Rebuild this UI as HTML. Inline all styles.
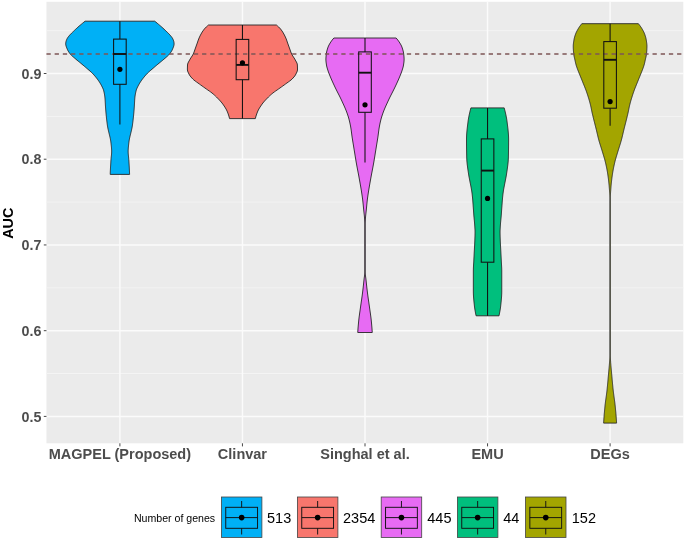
<!DOCTYPE html>
<html lang="en"><head><meta charset="utf-8"><title>AUC violin plot</title>
<style>html,body{margin:0;padding:0;background:#fff}svg{display:block;will-change:transform}text{font-family:"Liberation Sans",Arial,Helvetica,sans-serif}</style></head><body>
<svg width="685" height="541" viewBox="0 0 685 541">
<rect width="685" height="541" fill="#fff"/>
<rect x="46.45" y="1.8" width="636.85" height="441.5" fill="#EBEBEB"/>
<g stroke="#F4F4F4" stroke-width="0.9">
<line x1="46.45" x2="683.3" y1="30.64" y2="30.64"/>
<line x1="46.45" x2="683.3" y1="116.36" y2="116.36"/>
<line x1="46.45" x2="683.3" y1="202.09" y2="202.09"/>
<line x1="46.45" x2="683.3" y1="287.81" y2="287.81"/>
<line x1="46.45" x2="683.3" y1="373.54" y2="373.54"/>
</g>
<g stroke="#FBFBFB" stroke-width="1.45">
<line x1="46.45" x2="683.3" y1="73.5" y2="73.5"/>
<line x1="46.45" x2="683.3" y1="159.22" y2="159.22"/>
<line x1="46.45" x2="683.3" y1="244.95" y2="244.95"/>
<line x1="46.45" x2="683.3" y1="330.68" y2="330.68"/>
<line x1="46.45" x2="683.3" y1="416.4" y2="416.4"/>
<line x1="119.9" x2="119.9" y1="1.8" y2="443.3"/>
<line x1="242.45" x2="242.45" y1="1.8" y2="443.3"/>
<line x1="365" x2="365" y1="1.8" y2="443.3"/>
<line x1="487.55" x2="487.55" y1="1.8" y2="443.3"/>
<line x1="610.1" x2="610.1" y1="1.8" y2="443.3"/>
</g>
<path d="M85.1 21.2 L83.84 22.2 L82.61 23.2 L81.4 24.2 L80.21 25.2 L79.06 26.2 L77.92 27.2 L76.82 28.2 L75.73 29.2 L74.67 30.2 L73.63 31.2 L72.58 32.2 L71.55 33.2 L70.57 34.2 L69.67 35.2 L68.84 36.2 L68.04 37.2 L67.37 38.2 L66.86 39.2 L66.43 40.2 L66.08 41.2 L65.87 42.2 L65.73 43.2 L65.71 44.2 L65.85 45.2 L66.11 46.2 L66.46 47.2 L66.86 48.2 L67.28 49.2 L67.72 50.2 L68.27 51.2 L68.91 52.2 L69.63 53.2 L70.41 54.2 L71.33 55.2 L72.39 56.2 L73.54 57.2 L74.72 58.2 L75.88 59.2 L77.06 60.2 L78.28 61.2 L79.52 62.2 L80.75 63.2 L81.95 64.2 L83.14 65.2 L84.32 66.2 L85.49 67.2 L86.65 68.2 L87.81 69.2 L88.99 70.2 L90.15 71.2 L91.26 72.2 L92.3 73.2 L93.26 74.2 L94.17 75.2 L95.03 76.2 L95.86 77.2 L96.66 78.2 L97.43 79.2 L98.17 80.2 L98.87 81.2 L99.54 82.2 L100.15 83.2 L100.74 84.2 L101.29 85.2 L101.81 86.2 L102.31 87.2 L102.78 88.2 L103.23 89.2 L103.55 90.2 L103.81 91.2 L104.05 92.2 L104.26 93.2 L104.45 94.2 L104.61 95.2 L104.76 96.2 L104.88 97.2 L104.98 98.2 L105.06 99.2 L105.13 100.2 L105.19 101.2 L105.24 102.2 L105.3 103.2 L105.35 104.2 L105.4 105.2 L105.46 106.2 L105.52 107.2 L105.6 108.2 L105.67 109.2 L105.75 110.2 L105.84 111.2 L105.92 112.2 L106.01 113.2 L106.11 114.2 L106.2 115.2 L106.3 116.2 L106.4 117.2 L106.51 118.2 L106.62 119.2 L106.73 120.2 L106.85 121.2 L106.97 122.2 L107.1 123.2 L107.23 124.2 L107.36 125.2 L107.52 126.2 L107.69 127.2 L107.88 128.2 L108.1 129.2 L108.32 130.2 L108.55 131.2 L108.79 132.2 L109.04 133.2 L109.28 134.2 L109.53 135.2 L109.76 136.2 L109.99 137.2 L110.21 138.2 L110.41 139.2 L110.59 140.2 L110.75 141.2 L110.89 142.2 L111.01 143.2 L111.12 144.2 L111.23 145.2 L111.33 146.2 L111.43 147.2 L111.51 148.2 L111.58 149.2 L111.63 150.2 L111.65 151.2 L111.64 152.2 L111.6 153.2 L111.53 154.2 L111.44 155.2 L111.34 156.2 L111.23 157.2 L111.13 158.2 L111.03 159.2 L110.96 160.2 L110.89 161.2 L110.83 162.2 L110.77 163.2 L110.71 164.2 L110.65 165.2 L110.59 166.2 L110.53 167.2 L110.48 168.2 L110.43 169.2 L110.38 170.2 L110.33 171.2 L110.29 172.2 L110.25 173.2 L110.21 174.2 L110.2 174.4 L129.6 174.4 L129.59 174.2 L129.55 173.2 L129.51 172.2 L129.47 171.2 L129.42 170.2 L129.37 169.2 L129.32 168.2 L129.27 167.2 L129.21 166.2 L129.15 165.2 L129.09 164.2 L129.03 163.2 L128.97 162.2 L128.91 161.2 L128.84 160.2 L128.77 159.2 L128.67 158.2 L128.57 157.2 L128.46 156.2 L128.36 155.2 L128.27 154.2 L128.2 153.2 L128.16 152.2 L128.15 151.2 L128.17 150.2 L128.22 149.2 L128.29 148.2 L128.37 147.2 L128.47 146.2 L128.57 145.2 L128.68 144.2 L128.79 143.2 L128.91 142.2 L129.05 141.2 L129.21 140.2 L129.39 139.2 L129.59 138.2 L129.81 137.2 L130.04 136.2 L130.27 135.2 L130.52 134.2 L130.76 133.2 L131.01 132.2 L131.25 131.2 L131.48 130.2 L131.7 129.2 L131.92 128.2 L132.11 127.2 L132.28 126.2 L132.44 125.2 L132.57 124.2 L132.7 123.2 L132.83 122.2 L132.95 121.2 L133.07 120.2 L133.18 119.2 L133.29 118.2 L133.4 117.2 L133.5 116.2 L133.6 115.2 L133.69 114.2 L133.79 113.2 L133.88 112.2 L133.96 111.2 L134.05 110.2 L134.13 109.2 L134.2 108.2 L134.28 107.2 L134.34 106.2 L134.4 105.2 L134.45 104.2 L134.5 103.2 L134.56 102.2 L134.61 101.2 L134.67 100.2 L134.74 99.2 L134.82 98.2 L134.92 97.2 L135.04 96.2 L135.19 95.2 L135.35 94.2 L135.54 93.2 L135.75 92.2 L135.99 91.2 L136.25 90.2 L136.57 89.2 L137.02 88.2 L137.49 87.2 L137.99 86.2 L138.51 85.2 L139.06 84.2 L139.65 83.2 L140.26 82.2 L140.93 81.2 L141.63 80.2 L142.37 79.2 L143.14 78.2 L143.94 77.2 L144.77 76.2 L145.63 75.2 L146.54 74.2 L147.5 73.2 L148.54 72.2 L149.65 71.2 L150.81 70.2 L151.99 69.2 L153.15 68.2 L154.31 67.2 L155.48 66.2 L156.66 65.2 L157.85 64.2 L159.05 63.2 L160.28 62.2 L161.52 61.2 L162.74 60.2 L163.92 59.2 L165.08 58.2 L166.26 57.2 L167.41 56.2 L168.47 55.2 L169.39 54.2 L170.17 53.2 L170.89 52.2 L171.53 51.2 L172.08 50.2 L172.52 49.2 L172.94 48.2 L173.34 47.2 L173.69 46.2 L173.95 45.2 L174.09 44.2 L174.07 43.2 L173.93 42.2 L173.72 41.2 L173.37 40.2 L172.94 39.2 L172.43 38.2 L171.76 37.2 L170.96 36.2 L170.13 35.2 L169.23 34.2 L168.25 33.2 L167.22 32.2 L166.17 31.2 L165.13 30.2 L164.07 29.2 L162.98 28.2 L161.88 27.2 L160.74 26.2 L159.59 25.2 L158.4 24.2 L157.19 23.2 L155.96 22.2 L154.7 21.2 Z" fill="#00B0F6" stroke="#262626" stroke-width="0.9" stroke-linejoin="round"/>
<path d="M208.5 25 L207.34 26 L206.25 27 L205.25 28 L204.36 29 L203.58 30 L202.87 31 L202.22 32 L201.62 33 L201.05 34 L200.51 35 L200.01 36 L199.54 37 L199.09 38 L198.68 39 L198.3 40 L197.95 41 L197.62 42 L197.28 43 L196.92 44 L196.56 45 L196.2 46 L195.84 47 L195.47 48 L195.12 49 L194.77 50 L194.43 51 L194.08 52 L193.69 53 L193.25 54 L192.72 55 L192.11 56 L191.45 57 L190.79 58 L190.18 59 L189.64 60 L189.06 61 L188.49 62 L188 63 L187.66 64 L187.53 65 L187.48 66 L187.44 67 L187.42 68 L187.4 69 L187.43 70 L187.64 71 L188 72 L188.46 73 L188.95 74 L189.49 75 L190.16 76 L190.96 77 L191.85 78 L192.8 79 L193.9 80 L195.18 81 L196.57 82 L197.98 83 L199.36 84 L200.73 85 L202.13 86 L203.54 87 L204.95 88 L206.36 89 L207.81 90 L209.27 91 L210.68 92 L212 93 L213.2 94 L214.34 95 L215.41 96 L216.45 97 L217.45 98 L218.43 99 L219.39 100 L220.31 101 L221.18 102 L221.99 103 L222.75 104 L223.46 105 L224.15 106 L224.8 107 L225.42 108 L226.02 109 L226.55 110 L227.03 111 L227.46 112 L227.85 113 L228.21 114 L228.55 115 L228.86 116 L229.15 117 L229.41 118 L229.55 118.6 L255.35 118.6 L255.49 118 L255.75 117 L256.04 116 L256.35 115 L256.69 114 L257.05 113 L257.44 112 L257.87 111 L258.35 110 L258.88 109 L259.48 108 L260.1 107 L260.75 106 L261.44 105 L262.15 104 L262.91 103 L263.72 102 L264.59 101 L265.51 100 L266.47 99 L267.45 98 L268.45 97 L269.49 96 L270.56 95 L271.7 94 L272.9 93 L274.22 92 L275.63 91 L277.09 90 L278.54 89 L279.95 88 L281.36 87 L282.77 86 L284.17 85 L285.54 84 L286.92 83 L288.33 82 L289.72 81 L291 80 L292.1 79 L293.05 78 L293.94 77 L294.74 76 L295.41 75 L295.95 74 L296.44 73 L296.9 72 L297.26 71 L297.47 70 L297.5 69 L297.48 68 L297.46 67 L297.42 66 L297.37 65 L297.24 64 L296.9 63 L296.41 62 L295.84 61 L295.26 60 L294.72 59 L294.11 58 L293.45 57 L292.79 56 L292.18 55 L291.65 54 L291.21 53 L290.82 52 L290.47 51 L290.13 50 L289.78 49 L289.43 48 L289.06 47 L288.7 46 L288.34 45 L287.98 44 L287.62 43 L287.28 42 L286.95 41 L286.6 40 L286.22 39 L285.81 38 L285.36 37 L284.89 36 L284.39 35 L283.85 34 L283.28 33 L282.68 32 L282.03 31 L281.32 30 L280.54 29 L279.65 28 L278.65 27 L277.56 26 L276.4 25 Z" fill="#F8766D" stroke="#262626" stroke-width="0.9" stroke-linejoin="round"/>
<path d="M333.9 38 L333.04 39 L332.23 40 L331.48 41 L330.79 42 L330.16 43 L329.56 44 L329 45 L328.5 46 L328.09 47 L327.74 48 L327.41 49 L327.12 50 L326.85 51 L326.63 52 L326.45 53 L326.31 54 L326.2 55 L326.09 56 L326 57 L325.94 58 L325.9 59 L325.91 60 L325.97 61 L326.06 62 L326.19 63 L326.33 64 L326.48 65 L326.66 66 L326.9 67 L327.17 68 L327.48 69 L327.79 70 L328.11 71 L328.45 72 L328.82 73 L329.21 74 L329.61 75 L330.02 76 L330.43 77 L330.85 78 L331.28 79 L331.71 80 L332.16 81 L332.61 82 L333.07 83 L333.53 84 L334 85 L334.46 86 L334.94 87 L335.42 88 L335.91 89 L336.41 90 L336.92 91 L337.42 92 L337.94 93 L338.45 94 L338.96 95 L339.47 96 L339.97 97 L340.46 98 L340.95 99 L341.42 100 L341.88 101 L342.35 102 L342.81 103 L343.27 104 L343.73 105 L344.18 106 L344.62 107 L345.06 108 L345.48 109 L345.89 110 L346.29 111 L346.67 112 L347.04 113 L347.38 114 L347.72 115 L348.05 116 L348.36 117 L348.66 118 L348.94 119 L349.2 120 L349.45 121 L349.68 122 L349.91 123 L350.12 124 L350.32 125 L350.52 126 L350.7 127 L350.87 128 L351.02 129 L351.17 130 L351.3 131 L351.43 132 L351.56 133 L351.69 134 L351.82 135 L351.96 136 L352.1 137 L352.25 138 L352.41 139 L352.57 140 L352.73 141 L352.89 142 L353.06 143 L353.22 144 L353.38 145 L353.55 146 L353.71 147 L353.87 148 L354.04 149 L354.2 150 L354.36 151 L354.52 152 L354.69 153 L354.85 154 L355.01 155 L355.17 156 L355.33 157 L355.49 158 L355.66 159 L355.82 160 L355.99 161 L356.16 162 L356.34 163 L356.52 164 L356.7 165 L356.88 166 L357.07 167 L357.26 168 L357.45 169 L357.65 170 L357.84 171 L358.03 172 L358.22 173 L358.41 174 L358.6 175 L358.79 176 L358.97 177 L359.15 178 L359.33 179 L359.51 180 L359.69 181 L359.87 182 L360.05 183 L360.23 184 L360.4 185 L360.58 186 L360.75 187 L360.92 188 L361.08 189 L361.25 190 L361.41 191 L361.56 192 L361.72 193 L361.87 194 L362.02 195 L362.17 196 L362.31 197 L362.45 198 L362.58 199 L362.7 200 L362.82 201 L362.92 202 L363.03 203 L363.13 204 L363.22 205 L363.32 206 L363.41 207 L363.51 208 L363.61 209 L363.71 210 L363.82 211 L363.93 212 L364.04 213 L364.15 214 L364.26 215 L364.36 216 L364.45 217 L364.53 218 L364.6 219 L364.67 220 L364.73 221 L364.79 222 L364.83 223 L364.85 224 L364.85 225 L364.85 226 L364.85 227 L364.85 228 L364.85 229 L364.85 230 L364.85 231 L364.85 232 L364.85 233 L364.85 234 L364.85 235 L364.85 236 L364.85 237 L364.85 238 L364.85 239 L364.85 240 L364.85 241 L364.85 242 L364.85 243 L364.85 244 L364.85 245 L364.85 246 L364.85 247 L364.85 248 L364.85 249 L364.85 250 L364.85 251 L364.85 252 L364.85 253 L364.85 254 L364.85 255 L364.85 256 L364.85 257 L364.85 258 L364.85 259 L364.85 260 L364.85 261 L364.85 262 L364.85 263 L364.85 264 L364.85 265 L364.85 266 L364.85 267 L364.85 268 L364.85 269 L364.85 270 L364.85 271 L364.85 272 L364.82 273 L364.74 274 L364.63 275 L364.49 276 L364.35 277 L364.21 278 L364.09 279 L363.98 280 L363.87 281 L363.76 282 L363.65 283 L363.55 284 L363.44 285 L363.33 286 L363.22 287 L363.11 288 L362.99 289 L362.88 290 L362.76 291 L362.64 292 L362.51 293 L362.38 294 L362.25 295 L362.11 296 L361.98 297 L361.83 298 L361.69 299 L361.55 300 L361.4 301 L361.25 302 L361.11 303 L360.97 304 L360.82 305 L360.68 306 L360.54 307 L360.4 308 L360.26 309 L360.12 310 L359.97 311 L359.83 312 L359.68 313 L359.54 314 L359.41 315 L359.27 316 L359.14 317 L359.02 318 L358.9 319 L358.79 320 L358.69 321 L358.59 322 L358.49 323 L358.4 324 L358.31 325 L358.22 326 L358.14 327 L358.06 328 L357.98 329 L357.91 330 L357.84 331 L357.78 332 L357.75 332.5 L372.25 332.5 L372.22 332 L372.16 331 L372.09 330 L372.02 329 L371.94 328 L371.86 327 L371.78 326 L371.69 325 L371.6 324 L371.51 323 L371.41 322 L371.31 321 L371.21 320 L371.1 319 L370.98 318 L370.86 317 L370.73 316 L370.59 315 L370.46 314 L370.32 313 L370.17 312 L370.03 311 L369.88 310 L369.74 309 L369.6 308 L369.46 307 L369.32 306 L369.18 305 L369.03 304 L368.89 303 L368.75 302 L368.6 301 L368.45 300 L368.31 299 L368.17 298 L368.02 297 L367.89 296 L367.75 295 L367.62 294 L367.49 293 L367.36 292 L367.24 291 L367.12 290 L367.01 289 L366.89 288 L366.78 287 L366.67 286 L366.56 285 L366.45 284 L366.35 283 L366.24 282 L366.13 281 L366.02 280 L365.91 279 L365.79 278 L365.65 277 L365.51 276 L365.37 275 L365.26 274 L365.18 273 L365.15 272 L365.15 271 L365.15 270 L365.15 269 L365.15 268 L365.15 267 L365.15 266 L365.15 265 L365.15 264 L365.15 263 L365.15 262 L365.15 261 L365.15 260 L365.15 259 L365.15 258 L365.15 257 L365.15 256 L365.15 255 L365.15 254 L365.15 253 L365.15 252 L365.15 251 L365.15 250 L365.15 249 L365.15 248 L365.15 247 L365.15 246 L365.15 245 L365.15 244 L365.15 243 L365.15 242 L365.15 241 L365.15 240 L365.15 239 L365.15 238 L365.15 237 L365.15 236 L365.15 235 L365.15 234 L365.15 233 L365.15 232 L365.15 231 L365.15 230 L365.15 229 L365.15 228 L365.15 227 L365.15 226 L365.15 225 L365.15 224 L365.17 223 L365.21 222 L365.27 221 L365.33 220 L365.4 219 L365.47 218 L365.55 217 L365.64 216 L365.74 215 L365.85 214 L365.96 213 L366.07 212 L366.18 211 L366.29 210 L366.39 209 L366.49 208 L366.59 207 L366.68 206 L366.78 205 L366.87 204 L366.97 203 L367.08 202 L367.18 201 L367.3 200 L367.42 199 L367.55 198 L367.69 197 L367.83 196 L367.98 195 L368.13 194 L368.28 193 L368.44 192 L368.59 191 L368.75 190 L368.92 189 L369.08 188 L369.25 187 L369.42 186 L369.6 185 L369.77 184 L369.95 183 L370.13 182 L370.31 181 L370.49 180 L370.67 179 L370.85 178 L371.03 177 L371.21 176 L371.4 175 L371.59 174 L371.78 173 L371.97 172 L372.16 171 L372.35 170 L372.55 169 L372.74 168 L372.93 167 L373.12 166 L373.3 165 L373.48 164 L373.66 163 L373.84 162 L374.01 161 L374.18 160 L374.34 159 L374.51 158 L374.67 157 L374.83 156 L374.99 155 L375.15 154 L375.31 153 L375.48 152 L375.64 151 L375.8 150 L375.96 149 L376.13 148 L376.29 147 L376.45 146 L376.62 145 L376.78 144 L376.94 143 L377.11 142 L377.27 141 L377.43 140 L377.59 139 L377.75 138 L377.9 137 L378.04 136 L378.18 135 L378.31 134 L378.44 133 L378.57 132 L378.7 131 L378.83 130 L378.98 129 L379.13 128 L379.3 127 L379.48 126 L379.68 125 L379.88 124 L380.09 123 L380.32 122 L380.55 121 L380.8 120 L381.06 119 L381.34 118 L381.64 117 L381.95 116 L382.28 115 L382.62 114 L382.96 113 L383.33 112 L383.71 111 L384.11 110 L384.52 109 L384.94 108 L385.38 107 L385.82 106 L386.27 105 L386.73 104 L387.19 103 L387.65 102 L388.12 101 L388.58 100 L389.05 99 L389.54 98 L390.03 97 L390.53 96 L391.04 95 L391.55 94 L392.06 93 L392.58 92 L393.08 91 L393.59 90 L394.09 89 L394.58 88 L395.06 87 L395.54 86 L396 85 L396.47 84 L396.93 83 L397.39 82 L397.84 81 L398.29 80 L398.72 79 L399.15 78 L399.57 77 L399.98 76 L400.39 75 L400.79 74 L401.18 73 L401.55 72 L401.89 71 L402.21 70 L402.52 69 L402.83 68 L403.1 67 L403.34 66 L403.52 65 L403.67 64 L403.81 63 L403.94 62 L404.03 61 L404.09 60 L404.1 59 L404.06 58 L404 57 L403.91 56 L403.8 55 L403.69 54 L403.55 53 L403.37 52 L403.15 51 L402.88 50 L402.59 49 L402.26 48 L401.91 47 L401.5 46 L401 45 L400.44 44 L399.84 43 L399.21 42 L398.52 41 L397.77 40 L396.96 39 L396.1 38 Z" fill="#E76BF3" stroke="#262626" stroke-width="0.9" stroke-linejoin="round"/>
<path d="M470.9 107.9 L470.64 108.9 L470.39 109.9 L470.14 110.9 L469.89 111.9 L469.66 112.9 L469.43 113.9 L469.21 114.9 L469 115.9 L468.8 116.9 L468.62 117.9 L468.44 118.9 L468.29 119.9 L468.14 120.9 L468.01 121.9 L467.89 122.9 L467.76 123.9 L467.64 124.9 L467.51 125.9 L467.39 126.9 L467.28 127.9 L467.16 128.9 L467.06 129.9 L466.96 130.9 L466.87 131.9 L466.78 132.9 L466.71 133.9 L466.64 134.9 L466.59 135.9 L466.55 136.9 L466.52 137.9 L466.5 138.9 L466.5 139.9 L466.5 140.9 L466.5 141.9 L466.51 142.9 L466.51 143.9 L466.52 144.9 L466.53 145.9 L466.54 146.9 L466.55 147.9 L466.56 148.9 L466.58 149.9 L466.59 150.9 L466.61 151.9 L466.62 152.9 L466.64 153.9 L466.66 154.9 L466.68 155.9 L466.7 156.9 L466.72 157.9 L466.76 158.9 L466.82 159.9 L466.89 160.9 L466.97 161.9 L467.07 162.9 L467.17 163.9 L467.28 164.9 L467.41 165.9 L467.54 166.9 L467.67 167.9 L467.81 168.9 L467.96 169.9 L468.1 170.9 L468.25 171.9 L468.4 172.9 L468.55 173.9 L468.7 174.9 L468.86 175.9 L469.04 176.9 L469.24 177.9 L469.44 178.9 L469.63 179.9 L469.82 180.9 L470.01 181.9 L470.21 182.9 L470.41 183.9 L470.61 184.9 L470.8 185.9 L471 186.9 L471.18 187.9 L471.37 188.9 L471.54 189.9 L471.7 190.9 L471.85 191.9 L471.99 192.9 L472.12 193.9 L472.23 194.9 L472.34 195.9 L472.44 196.9 L472.54 197.9 L472.63 198.9 L472.72 199.9 L472.8 200.9 L472.87 201.9 L472.95 202.9 L473.02 203.9 L473.1 204.9 L473.17 205.9 L473.24 206.9 L473.32 207.9 L473.39 208.9 L473.46 209.9 L473.53 210.9 L473.6 211.9 L473.67 212.9 L473.74 213.9 L473.81 214.9 L473.89 215.9 L473.98 216.9 L474.07 217.9 L474.16 218.9 L474.26 219.9 L474.36 220.9 L474.45 221.9 L474.54 222.9 L474.62 223.9 L474.69 224.9 L474.76 225.9 L474.83 226.9 L474.89 227.9 L474.95 228.9 L475 229.9 L475.04 230.9 L475.05 231.9 L475.05 232.9 L475.03 233.9 L475.01 234.9 L474.99 235.9 L474.96 236.9 L474.92 237.9 L474.89 238.9 L474.85 239.9 L474.82 240.9 L474.78 241.9 L474.73 242.9 L474.68 243.9 L474.63 244.9 L474.57 245.9 L474.52 246.9 L474.46 247.9 L474.41 248.9 L474.36 249.9 L474.3 250.9 L474.25 251.9 L474.2 252.9 L474.15 253.9 L474.1 254.9 L474.05 255.9 L474 256.9 L473.95 257.9 L473.9 258.9 L473.85 259.9 L473.8 260.9 L473.75 261.9 L473.69 262.9 L473.62 263.9 L473.56 264.9 L473.51 265.9 L473.46 266.9 L473.41 267.9 L473.38 268.9 L473.36 269.9 L473.35 270.9 L473.35 271.9 L473.35 272.9 L473.35 273.9 L473.35 274.9 L473.35 275.9 L473.35 276.9 L473.35 277.9 L473.35 278.9 L473.35 279.9 L473.35 280.9 L473.35 281.9 L473.35 282.9 L473.35 283.9 L473.35 284.9 L473.35 285.9 L473.35 286.9 L473.35 287.9 L473.35 288.9 L473.35 289.9 L473.35 290.9 L473.35 291.9 L473.36 292.9 L473.39 293.9 L473.43 294.9 L473.49 295.9 L473.55 296.9 L473.62 297.9 L473.71 298.9 L473.79 299.9 L473.89 300.9 L473.99 301.9 L474.09 302.9 L474.19 303.9 L474.3 304.9 L474.4 305.9 L474.52 306.9 L474.66 307.9 L474.81 308.9 L474.97 309.9 L475.14 310.9 L475.32 311.9 L475.51 312.9 L475.71 313.9 L475.91 314.9 L476.1 315.8 L499 315.8 L499.19 314.9 L499.39 313.9 L499.59 312.9 L499.78 311.9 L499.96 310.9 L500.13 309.9 L500.29 308.9 L500.44 307.9 L500.58 306.9 L500.7 305.9 L500.8 304.9 L500.91 303.9 L501.01 302.9 L501.11 301.9 L501.21 300.9 L501.31 299.9 L501.39 298.9 L501.48 297.9 L501.55 296.9 L501.61 295.9 L501.67 294.9 L501.71 293.9 L501.74 292.9 L501.75 291.9 L501.75 290.9 L501.75 289.9 L501.75 288.9 L501.75 287.9 L501.75 286.9 L501.75 285.9 L501.75 284.9 L501.75 283.9 L501.75 282.9 L501.75 281.9 L501.75 280.9 L501.75 279.9 L501.75 278.9 L501.75 277.9 L501.75 276.9 L501.75 275.9 L501.75 274.9 L501.75 273.9 L501.75 272.9 L501.75 271.9 L501.75 270.9 L501.74 269.9 L501.72 268.9 L501.69 267.9 L501.64 266.9 L501.59 265.9 L501.54 264.9 L501.48 263.9 L501.41 262.9 L501.35 261.9 L501.3 260.9 L501.25 259.9 L501.2 258.9 L501.15 257.9 L501.1 256.9 L501.05 255.9 L501 254.9 L500.95 253.9 L500.9 252.9 L500.85 251.9 L500.8 250.9 L500.74 249.9 L500.69 248.9 L500.64 247.9 L500.58 246.9 L500.53 245.9 L500.47 244.9 L500.42 243.9 L500.37 242.9 L500.32 241.9 L500.28 240.9 L500.25 239.9 L500.21 238.9 L500.18 237.9 L500.14 236.9 L500.11 235.9 L500.09 234.9 L500.07 233.9 L500.05 232.9 L500.05 231.9 L500.06 230.9 L500.1 229.9 L500.15 228.9 L500.21 227.9 L500.27 226.9 L500.34 225.9 L500.41 224.9 L500.48 223.9 L500.56 222.9 L500.65 221.9 L500.74 220.9 L500.84 219.9 L500.94 218.9 L501.03 217.9 L501.12 216.9 L501.21 215.9 L501.29 214.9 L501.36 213.9 L501.43 212.9 L501.5 211.9 L501.57 210.9 L501.64 209.9 L501.71 208.9 L501.78 207.9 L501.86 206.9 L501.93 205.9 L502 204.9 L502.08 203.9 L502.15 202.9 L502.23 201.9 L502.3 200.9 L502.38 199.9 L502.47 198.9 L502.56 197.9 L502.66 196.9 L502.76 195.9 L502.87 194.9 L502.98 193.9 L503.11 192.9 L503.25 191.9 L503.4 190.9 L503.56 189.9 L503.73 188.9 L503.92 187.9 L504.1 186.9 L504.3 185.9 L504.49 184.9 L504.69 183.9 L504.89 182.9 L505.09 181.9 L505.28 180.9 L505.47 179.9 L505.66 178.9 L505.86 177.9 L506.06 176.9 L506.24 175.9 L506.4 174.9 L506.55 173.9 L506.7 172.9 L506.85 171.9 L507 170.9 L507.14 169.9 L507.29 168.9 L507.43 167.9 L507.56 166.9 L507.69 165.9 L507.82 164.9 L507.93 163.9 L508.03 162.9 L508.13 161.9 L508.21 160.9 L508.28 159.9 L508.34 158.9 L508.38 157.9 L508.4 156.9 L508.42 155.9 L508.44 154.9 L508.46 153.9 L508.48 152.9 L508.49 151.9 L508.51 150.9 L508.52 149.9 L508.54 148.9 L508.55 147.9 L508.56 146.9 L508.57 145.9 L508.58 144.9 L508.59 143.9 L508.59 142.9 L508.6 141.9 L508.6 140.9 L508.6 139.9 L508.6 138.9 L508.58 137.9 L508.55 136.9 L508.51 135.9 L508.46 134.9 L508.39 133.9 L508.32 132.9 L508.23 131.9 L508.14 130.9 L508.04 129.9 L507.94 128.9 L507.82 127.9 L507.71 126.9 L507.59 125.9 L507.46 124.9 L507.34 123.9 L507.21 122.9 L507.09 121.9 L506.96 120.9 L506.81 119.9 L506.66 118.9 L506.48 117.9 L506.3 116.9 L506.1 115.9 L505.89 114.9 L505.67 113.9 L505.44 112.9 L505.21 111.9 L504.96 110.9 L504.71 109.9 L504.46 108.9 L504.2 107.9 Z" fill="#00BF7D" stroke="#262626" stroke-width="0.9" stroke-linejoin="round"/>
<path d="M581.8 23.7 L581.01 24.7 L580.25 25.7 L579.53 26.7 L578.87 27.7 L578.26 28.7 L577.68 29.7 L577.12 30.7 L576.6 31.7 L576.13 32.7 L575.71 33.7 L575.35 34.7 L575.01 35.7 L574.7 36.7 L574.43 37.7 L574.19 38.7 L574 39.7 L573.84 40.7 L573.68 41.7 L573.53 42.7 L573.41 43.7 L573.31 44.7 L573.26 45.7 L573.25 46.7 L573.27 47.7 L573.31 48.7 L573.36 49.7 L573.43 50.7 L573.5 51.7 L573.59 52.7 L573.68 53.7 L573.8 54.7 L573.97 55.7 L574.18 56.7 L574.41 57.7 L574.65 58.7 L574.87 59.7 L575.09 60.7 L575.3 61.7 L575.52 62.7 L575.76 63.7 L576.02 64.7 L576.31 65.7 L576.64 66.7 L576.99 67.7 L577.35 68.7 L577.73 69.7 L578.11 70.7 L578.5 71.7 L578.9 72.7 L579.31 73.7 L579.72 74.7 L580.13 75.7 L580.54 76.7 L580.95 77.7 L581.36 78.7 L581.76 79.7 L582.16 80.7 L582.56 81.7 L582.96 82.7 L583.37 83.7 L583.78 84.7 L584.18 85.7 L584.59 86.7 L584.98 87.7 L585.38 88.7 L585.76 89.7 L586.13 90.7 L586.49 91.7 L586.83 92.7 L587.17 93.7 L587.5 94.7 L587.83 95.7 L588.15 96.7 L588.46 97.7 L588.77 98.7 L589.07 99.7 L589.36 100.7 L589.64 101.7 L589.91 102.7 L590.17 103.7 L590.43 104.7 L590.67 105.7 L590.89 106.7 L591.1 107.7 L591.3 108.7 L591.5 109.7 L591.7 110.7 L591.9 111.7 L592.12 112.7 L592.35 113.7 L592.58 114.7 L592.82 115.7 L593.06 116.7 L593.3 117.7 L593.55 118.7 L593.79 119.7 L594.04 120.7 L594.3 121.7 L594.55 122.7 L594.8 123.7 L595.05 124.7 L595.31 125.7 L595.56 126.7 L595.81 127.7 L596.06 128.7 L596.3 129.7 L596.55 130.7 L596.78 131.7 L597.02 132.7 L597.25 133.7 L597.49 134.7 L597.72 135.7 L597.96 136.7 L598.21 137.7 L598.46 138.7 L598.72 139.7 L598.99 140.7 L599.28 141.7 L599.58 142.7 L599.88 143.7 L600.19 144.7 L600.51 145.7 L600.83 146.7 L601.15 147.7 L601.46 148.7 L601.78 149.7 L602.08 150.7 L602.38 151.7 L602.68 152.7 L602.99 153.7 L603.29 154.7 L603.6 155.7 L603.9 156.7 L604.2 157.7 L604.48 158.7 L604.76 159.7 L605.03 160.7 L605.28 161.7 L605.52 162.7 L605.75 163.7 L605.97 164.7 L606.19 165.7 L606.41 166.7 L606.61 167.7 L606.81 168.7 L607 169.7 L607.18 170.7 L607.36 171.7 L607.52 172.7 L607.68 173.7 L607.83 174.7 L607.97 175.7 L608.11 176.7 L608.25 177.7 L608.38 178.7 L608.5 179.7 L608.62 180.7 L608.73 181.7 L608.84 182.7 L608.94 183.7 L609.04 184.7 L609.13 185.7 L609.21 186.7 L609.29 187.7 L609.37 188.7 L609.44 189.7 L609.51 190.7 L609.58 191.7 L609.65 192.7 L609.73 193.7 L609.8 194.7 L609.87 195.7 L609.92 196.7 L609.95 197.7 L609.95 198.7 L609.95 199.7 L609.95 200.7 L609.95 201.7 L609.95 202.7 L609.95 203.7 L609.95 204.7 L609.95 205.7 L609.95 206.7 L609.95 207.7 L609.95 208.7 L609.95 209.7 L609.95 210.7 L609.95 211.7 L609.95 212.7 L609.95 213.7 L609.95 214.7 L609.95 215.7 L609.95 216.7 L609.95 217.7 L609.95 218.7 L609.95 219.7 L609.95 220.7 L609.95 221.7 L609.95 222.7 L609.95 223.7 L609.95 224.7 L609.95 225.7 L609.95 226.7 L609.95 227.7 L609.95 228.7 L609.95 229.7 L609.95 230.7 L609.95 231.7 L609.95 232.7 L609.95 233.7 L609.95 234.7 L609.95 235.7 L609.95 236.7 L609.95 237.7 L609.95 238.7 L609.95 239.7 L609.95 240.7 L609.95 241.7 L609.95 242.7 L609.95 243.7 L609.95 244.7 L609.95 245.7 L609.95 246.7 L609.95 247.7 L609.95 248.7 L609.95 249.7 L609.95 250.7 L609.95 251.7 L609.95 252.7 L609.95 253.7 L609.95 254.7 L609.95 255.7 L609.95 256.7 L609.95 257.7 L609.95 258.7 L609.95 259.7 L609.95 260.7 L609.95 261.7 L609.95 262.7 L609.95 263.7 L609.95 264.7 L609.95 265.7 L609.95 266.7 L609.95 267.7 L609.95 268.7 L609.95 269.7 L609.95 270.7 L609.95 271.7 L609.95 272.7 L609.95 273.7 L609.95 274.7 L609.95 275.7 L609.95 276.7 L609.95 277.7 L609.95 278.7 L609.95 279.7 L609.95 280.7 L609.95 281.7 L609.95 282.7 L609.95 283.7 L609.95 284.7 L609.95 285.7 L609.95 286.7 L609.95 287.7 L609.95 288.7 L609.95 289.7 L609.95 290.7 L609.95 291.7 L609.95 292.7 L609.95 293.7 L609.95 294.7 L609.95 295.7 L609.95 296.7 L609.95 297.7 L609.95 298.7 L609.95 299.7 L609.95 300.7 L609.95 301.7 L609.95 302.7 L609.95 303.7 L609.95 304.7 L609.95 305.7 L609.95 306.7 L609.95 307.7 L609.95 308.7 L609.95 309.7 L609.95 310.7 L609.95 311.7 L609.95 312.7 L609.95 313.7 L609.95 314.7 L609.95 315.7 L609.95 316.7 L609.95 317.7 L609.95 318.7 L609.95 319.7 L609.95 320.7 L609.95 321.7 L609.95 322.7 L609.95 323.7 L609.95 324.7 L609.95 325.7 L609.95 326.7 L609.95 327.7 L609.95 328.7 L609.95 329.7 L609.95 330.7 L609.95 331.7 L609.95 332.7 L609.95 333.7 L609.95 334.7 L609.95 335.7 L609.95 336.7 L609.95 337.7 L609.95 338.7 L609.95 339.7 L609.95 340.7 L609.95 341.7 L609.95 342.7 L609.95 343.7 L609.95 344.7 L609.95 345.7 L609.95 346.7 L609.95 347.7 L609.95 348.7 L609.95 349.7 L609.95 350.7 L609.95 351.7 L609.95 352.7 L609.95 353.7 L609.95 354.7 L609.94 355.7 L609.91 356.7 L609.86 357.7 L609.8 358.7 L609.73 359.7 L609.66 360.7 L609.59 361.7 L609.53 362.7 L609.45 363.7 L609.37 364.7 L609.29 365.7 L609.2 366.7 L609.11 367.7 L609.02 368.7 L608.92 369.7 L608.83 370.7 L608.74 371.7 L608.64 372.7 L608.56 373.7 L608.47 374.7 L608.38 375.7 L608.29 376.7 L608.2 377.7 L608.12 378.7 L608.03 379.7 L607.94 380.7 L607.85 381.7 L607.76 382.7 L607.67 383.7 L607.57 384.7 L607.48 385.7 L607.38 386.7 L607.28 387.7 L607.18 388.7 L607.07 389.7 L606.96 390.7 L606.85 391.7 L606.72 392.7 L606.59 393.7 L606.46 394.7 L606.33 395.7 L606.19 396.7 L606.05 397.7 L605.91 398.7 L605.78 399.7 L605.64 400.7 L605.51 401.7 L605.38 402.7 L605.26 403.7 L605.14 404.7 L605.03 405.7 L604.93 406.7 L604.83 407.7 L604.74 408.7 L604.64 409.7 L604.55 410.7 L604.46 411.7 L604.37 412.7 L604.28 413.7 L604.2 414.7 L604.12 415.7 L604.04 416.7 L603.96 417.7 L603.89 418.7 L603.82 419.7 L603.75 420.7 L603.69 421.7 L603.62 422.7 L603.6 423.1 L616.6 423.1 L616.58 422.7 L616.51 421.7 L616.45 420.7 L616.38 419.7 L616.31 418.7 L616.24 417.7 L616.16 416.7 L616.08 415.7 L616 414.7 L615.92 413.7 L615.83 412.7 L615.74 411.7 L615.65 410.7 L615.56 409.7 L615.46 408.7 L615.37 407.7 L615.27 406.7 L615.17 405.7 L615.06 404.7 L614.94 403.7 L614.82 402.7 L614.69 401.7 L614.56 400.7 L614.42 399.7 L614.29 398.7 L614.15 397.7 L614.01 396.7 L613.87 395.7 L613.74 394.7 L613.61 393.7 L613.48 392.7 L613.35 391.7 L613.24 390.7 L613.13 389.7 L613.02 388.7 L612.92 387.7 L612.82 386.7 L612.72 385.7 L612.63 384.7 L612.53 383.7 L612.44 382.7 L612.35 381.7 L612.26 380.7 L612.17 379.7 L612.08 378.7 L612 377.7 L611.91 376.7 L611.82 375.7 L611.73 374.7 L611.64 373.7 L611.56 372.7 L611.46 371.7 L611.37 370.7 L611.28 369.7 L611.18 368.7 L611.09 367.7 L611 366.7 L610.91 365.7 L610.83 364.7 L610.75 363.7 L610.67 362.7 L610.61 361.7 L610.54 360.7 L610.47 359.7 L610.4 358.7 L610.34 357.7 L610.29 356.7 L610.26 355.7 L610.25 354.7 L610.25 353.7 L610.25 352.7 L610.25 351.7 L610.25 350.7 L610.25 349.7 L610.25 348.7 L610.25 347.7 L610.25 346.7 L610.25 345.7 L610.25 344.7 L610.25 343.7 L610.25 342.7 L610.25 341.7 L610.25 340.7 L610.25 339.7 L610.25 338.7 L610.25 337.7 L610.25 336.7 L610.25 335.7 L610.25 334.7 L610.25 333.7 L610.25 332.7 L610.25 331.7 L610.25 330.7 L610.25 329.7 L610.25 328.7 L610.25 327.7 L610.25 326.7 L610.25 325.7 L610.25 324.7 L610.25 323.7 L610.25 322.7 L610.25 321.7 L610.25 320.7 L610.25 319.7 L610.25 318.7 L610.25 317.7 L610.25 316.7 L610.25 315.7 L610.25 314.7 L610.25 313.7 L610.25 312.7 L610.25 311.7 L610.25 310.7 L610.25 309.7 L610.25 308.7 L610.25 307.7 L610.25 306.7 L610.25 305.7 L610.25 304.7 L610.25 303.7 L610.25 302.7 L610.25 301.7 L610.25 300.7 L610.25 299.7 L610.25 298.7 L610.25 297.7 L610.25 296.7 L610.25 295.7 L610.25 294.7 L610.25 293.7 L610.25 292.7 L610.25 291.7 L610.25 290.7 L610.25 289.7 L610.25 288.7 L610.25 287.7 L610.25 286.7 L610.25 285.7 L610.25 284.7 L610.25 283.7 L610.25 282.7 L610.25 281.7 L610.25 280.7 L610.25 279.7 L610.25 278.7 L610.25 277.7 L610.25 276.7 L610.25 275.7 L610.25 274.7 L610.25 273.7 L610.25 272.7 L610.25 271.7 L610.25 270.7 L610.25 269.7 L610.25 268.7 L610.25 267.7 L610.25 266.7 L610.25 265.7 L610.25 264.7 L610.25 263.7 L610.25 262.7 L610.25 261.7 L610.25 260.7 L610.25 259.7 L610.25 258.7 L610.25 257.7 L610.25 256.7 L610.25 255.7 L610.25 254.7 L610.25 253.7 L610.25 252.7 L610.25 251.7 L610.25 250.7 L610.25 249.7 L610.25 248.7 L610.25 247.7 L610.25 246.7 L610.25 245.7 L610.25 244.7 L610.25 243.7 L610.25 242.7 L610.25 241.7 L610.25 240.7 L610.25 239.7 L610.25 238.7 L610.25 237.7 L610.25 236.7 L610.25 235.7 L610.25 234.7 L610.25 233.7 L610.25 232.7 L610.25 231.7 L610.25 230.7 L610.25 229.7 L610.25 228.7 L610.25 227.7 L610.25 226.7 L610.25 225.7 L610.25 224.7 L610.25 223.7 L610.25 222.7 L610.25 221.7 L610.25 220.7 L610.25 219.7 L610.25 218.7 L610.25 217.7 L610.25 216.7 L610.25 215.7 L610.25 214.7 L610.25 213.7 L610.25 212.7 L610.25 211.7 L610.25 210.7 L610.25 209.7 L610.25 208.7 L610.25 207.7 L610.25 206.7 L610.25 205.7 L610.25 204.7 L610.25 203.7 L610.25 202.7 L610.25 201.7 L610.25 200.7 L610.25 199.7 L610.25 198.7 L610.25 197.7 L610.28 196.7 L610.33 195.7 L610.4 194.7 L610.47 193.7 L610.55 192.7 L610.62 191.7 L610.69 190.7 L610.76 189.7 L610.83 188.7 L610.91 187.7 L610.99 186.7 L611.07 185.7 L611.16 184.7 L611.26 183.7 L611.36 182.7 L611.47 181.7 L611.58 180.7 L611.7 179.7 L611.82 178.7 L611.95 177.7 L612.09 176.7 L612.23 175.7 L612.37 174.7 L612.52 173.7 L612.68 172.7 L612.84 171.7 L613.02 170.7 L613.2 169.7 L613.39 168.7 L613.59 167.7 L613.79 166.7 L614.01 165.7 L614.23 164.7 L614.45 163.7 L614.68 162.7 L614.92 161.7 L615.17 160.7 L615.44 159.7 L615.72 158.7 L616 157.7 L616.3 156.7 L616.6 155.7 L616.91 154.7 L617.21 153.7 L617.52 152.7 L617.82 151.7 L618.12 150.7 L618.42 149.7 L618.74 148.7 L619.05 147.7 L619.37 146.7 L619.69 145.7 L620.01 144.7 L620.32 143.7 L620.62 142.7 L620.92 141.7 L621.21 140.7 L621.48 139.7 L621.74 138.7 L621.99 137.7 L622.24 136.7 L622.48 135.7 L622.71 134.7 L622.95 133.7 L623.18 132.7 L623.42 131.7 L623.65 130.7 L623.9 129.7 L624.14 128.7 L624.39 127.7 L624.64 126.7 L624.89 125.7 L625.15 124.7 L625.4 123.7 L625.65 122.7 L625.9 121.7 L626.16 120.7 L626.41 119.7 L626.65 118.7 L626.9 117.7 L627.14 116.7 L627.38 115.7 L627.62 114.7 L627.85 113.7 L628.08 112.7 L628.3 111.7 L628.5 110.7 L628.7 109.7 L628.9 108.7 L629.1 107.7 L629.31 106.7 L629.53 105.7 L629.77 104.7 L630.03 103.7 L630.29 102.7 L630.56 101.7 L630.84 100.7 L631.13 99.7 L631.43 98.7 L631.74 97.7 L632.05 96.7 L632.37 95.7 L632.7 94.7 L633.03 93.7 L633.37 92.7 L633.71 91.7 L634.07 90.7 L634.44 89.7 L634.82 88.7 L635.22 87.7 L635.61 86.7 L636.02 85.7 L636.42 84.7 L636.83 83.7 L637.24 82.7 L637.64 81.7 L638.04 80.7 L638.44 79.7 L638.84 78.7 L639.25 77.7 L639.66 76.7 L640.07 75.7 L640.48 74.7 L640.89 73.7 L641.3 72.7 L641.7 71.7 L642.09 70.7 L642.47 69.7 L642.85 68.7 L643.21 67.7 L643.56 66.7 L643.89 65.7 L644.18 64.7 L644.44 63.7 L644.68 62.7 L644.9 61.7 L645.11 60.7 L645.33 59.7 L645.55 58.7 L645.79 57.7 L646.02 56.7 L646.23 55.7 L646.4 54.7 L646.52 53.7 L646.61 52.7 L646.7 51.7 L646.77 50.7 L646.84 49.7 L646.89 48.7 L646.93 47.7 L646.95 46.7 L646.94 45.7 L646.89 44.7 L646.79 43.7 L646.67 42.7 L646.52 41.7 L646.36 40.7 L646.2 39.7 L646.01 38.7 L645.77 37.7 L645.5 36.7 L645.19 35.7 L644.85 34.7 L644.49 33.7 L644.07 32.7 L643.6 31.7 L643.08 30.7 L642.52 29.7 L641.94 28.7 L641.33 27.7 L640.67 26.7 L639.95 25.7 L639.19 24.7 L638.4 23.7 Z" fill="#A3A500" stroke="#262626" stroke-width="0.9" stroke-linejoin="round"/>
<line x1="46.45" x2="683.3" y1="54.0" y2="54.0" stroke="#7D5656" stroke-width="1.5" stroke-dasharray="4.3 3.89"/>
<g stroke="#111" stroke-width="1.05" fill="none">
<line x1="119.9" x2="119.9" y1="21.2" y2="39.1"/>
<line x1="119.9" x2="119.9" y1="84.3" y2="124.6"/>
<rect x="113.6" y="39.1" width="12.6" height="45.2"/>
<line x1="113.6" x2="126.2" y1="54.0" y2="54.0" stroke-width="1.9"/>
</g>
<circle cx="119.9" cy="69.3" r="2.6" fill="#000"/>
<g stroke="#111" stroke-width="1.05" fill="none">
<line x1="242.45" x2="242.45" y1="25.0" y2="39.4"/>
<line x1="242.45" x2="242.45" y1="79.7" y2="118.6"/>
<rect x="236.15" y="39.4" width="12.6" height="40.3"/>
<line x1="236.15" x2="248.75" y1="64.9" y2="64.9" stroke-width="1.9"/>
</g>
<circle cx="242.45" cy="62.8" r="2.6" fill="#000"/>
<g stroke="#111" stroke-width="1.05" fill="none">
<line x1="365" x2="365" y1="38.0" y2="51.9"/>
<line x1="365" x2="365" y1="112.3" y2="162.4"/>
<rect x="358.7" y="51.9" width="12.6" height="60.4"/>
<line x1="358.7" x2="371.3" y1="72.7" y2="72.7" stroke-width="1.9"/>
</g>
<circle cx="365" cy="104.8" r="2.6" fill="#000"/>
<g stroke="#111" stroke-width="1.05" fill="none">
<line x1="487.55" x2="487.55" y1="107.9" y2="138.9"/>
<line x1="487.55" x2="487.55" y1="262.2" y2="315.8"/>
<rect x="481.25" y="138.9" width="12.6" height="123.3"/>
<line x1="481.25" x2="493.85" y1="170.6" y2="170.6" stroke-width="1.9"/>
</g>
<circle cx="487.55" cy="198.4" r="2.6" fill="#000"/>
<g stroke="#111" stroke-width="1.05" fill="none">
<line x1="610.1" x2="610.1" y1="23.7" y2="41.6"/>
<line x1="610.1" x2="610.1" y1="108.2" y2="125.8"/>
<rect x="603.8" y="41.6" width="12.6" height="66.6"/>
<line x1="603.8" x2="616.4" y1="59.8" y2="59.8" stroke-width="1.9"/>
</g>
<circle cx="610.1" cy="101.6" r="2.6" fill="#000"/>
<g stroke="#333" stroke-width="0.9">
<line x1="43.8" x2="46.45" y1="73.5" y2="73.5"/>
<line x1="43.8" x2="46.45" y1="159.22" y2="159.22"/>
<line x1="43.8" x2="46.45" y1="244.95" y2="244.95"/>
<line x1="43.8" x2="46.45" y1="330.68" y2="330.68"/>
<line x1="43.8" x2="46.45" y1="416.4" y2="416.4"/>
<line x1="119.9" x2="119.9" y1="443.3" y2="446.4"/>
<line x1="242.45" x2="242.45" y1="443.3" y2="446.4"/>
<line x1="365" x2="365" y1="443.3" y2="446.4"/>
<line x1="487.55" x2="487.55" y1="443.3" y2="446.4"/>
<line x1="610.1" x2="610.1" y1="443.3" y2="446.4"/>
</g>
<g font-size="14.3" font-weight="bold" fill="#4D4D4D" text-anchor="end">
<text x="41.4" y="78.6">0.9</text>
<text x="41.4" y="164.32">0.8</text>
<text x="41.4" y="250.05">0.7</text>
<text x="41.4" y="335.78">0.6</text>
<text x="41.4" y="421.5">0.5</text>
</g>
<g font-size="14.5" font-weight="bold" fill="#4D4D4D" text-anchor="middle">
<text x="119.9" y="459.2">MAGPEL (Proposed)</text>
<text x="242.45" y="459.2">Clinvar</text>
<text x="365" y="459.2">Singhal et al.</text>
<text x="487.55" y="459.2">EMU</text>
<text x="610.1" y="459.2">DEGs</text>
</g>
<text transform="translate(13.3 223.2) rotate(-90)" font-size="14.4" font-weight="bold" fill="#000" text-anchor="middle">AUC</text>
<text x="133.9" y="521.6" font-size="10.6" fill="#000">Number of genes</text>
<rect x="221.4" y="497.0" width="40.5" height="40.5" fill="#00B0F6" stroke="#444" stroke-width="0.8"/>
<g stroke="#111" stroke-width="0.95" fill="none">
<line x1="241.65" x2="241.65" y1="501" y2="507.3"/>
<line x1="241.65" x2="241.65" y1="528.3" y2="534.5"/>
<rect x="225.75" y="507.3" width="31.8" height="21"/>
<line x1="225.75" x2="257.55" y1="517.6" y2="517.6"/>
</g>
<circle cx="241.65" cy="517.6" r="2.8" fill="#000"/>
<text x="267.0" y="523.3" font-size="14.5" fill="#000">513</text>
<rect x="297.4" y="497.0" width="40.5" height="40.5" fill="#F8766D" stroke="#444" stroke-width="0.8"/>
<g stroke="#111" stroke-width="0.95" fill="none">
<line x1="317.65" x2="317.65" y1="501" y2="507.3"/>
<line x1="317.65" x2="317.65" y1="528.3" y2="534.5"/>
<rect x="301.75" y="507.3" width="31.8" height="21"/>
<line x1="301.75" x2="333.55" y1="517.6" y2="517.6"/>
</g>
<circle cx="317.65" cy="517.6" r="2.8" fill="#000"/>
<text x="343.0" y="523.3" font-size="14.5" fill="#000">2354</text>
<rect x="381.2" y="497.0" width="40.5" height="40.5" fill="#E76BF3" stroke="#444" stroke-width="0.8"/>
<g stroke="#111" stroke-width="0.95" fill="none">
<line x1="401.45" x2="401.45" y1="501" y2="507.3"/>
<line x1="401.45" x2="401.45" y1="528.3" y2="534.5"/>
<rect x="385.55" y="507.3" width="31.8" height="21"/>
<line x1="385.55" x2="417.35" y1="517.6" y2="517.6"/>
</g>
<circle cx="401.45" cy="517.6" r="2.8" fill="#000"/>
<text x="427.3" y="523.3" font-size="14.5" fill="#000">445</text>
<rect x="457.4" y="497.0" width="40.5" height="40.5" fill="#00BF7D" stroke="#444" stroke-width="0.8"/>
<g stroke="#111" stroke-width="0.95" fill="none">
<line x1="477.65" x2="477.65" y1="501" y2="507.3"/>
<line x1="477.65" x2="477.65" y1="528.3" y2="534.5"/>
<rect x="461.75" y="507.3" width="31.8" height="21"/>
<line x1="461.75" x2="493.55" y1="517.6" y2="517.6"/>
</g>
<circle cx="477.65" cy="517.6" r="2.8" fill="#000"/>
<text x="503.3" y="523.3" font-size="14.5" fill="#000">44</text>
<rect x="525.5" y="497.0" width="40.5" height="40.5" fill="#A3A500" stroke="#444" stroke-width="0.8"/>
<g stroke="#111" stroke-width="0.95" fill="none">
<line x1="545.75" x2="545.75" y1="501" y2="507.3"/>
<line x1="545.75" x2="545.75" y1="528.3" y2="534.5"/>
<rect x="529.85" y="507.3" width="31.8" height="21"/>
<line x1="529.85" x2="561.65" y1="517.6" y2="517.6"/>
</g>
<circle cx="545.75" cy="517.6" r="2.8" fill="#000"/>
<text x="571.8" y="523.3" font-size="14.5" fill="#000">152</text>
</svg></body></html>
